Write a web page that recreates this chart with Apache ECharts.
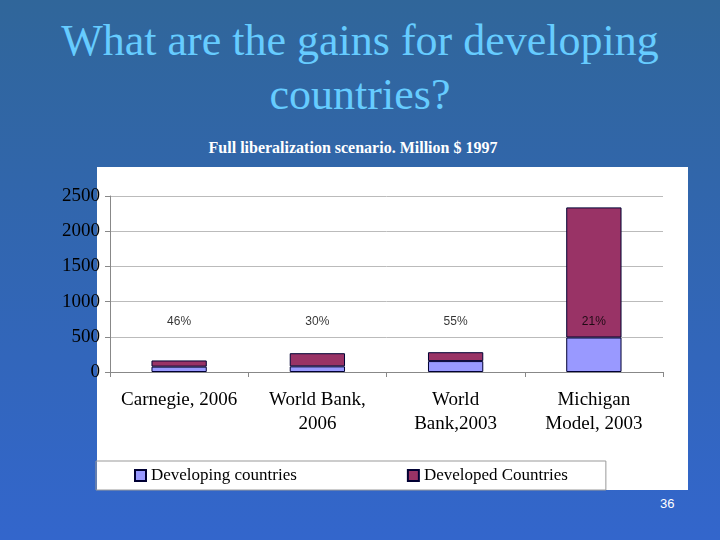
<!DOCTYPE html>
<html><head><meta charset="utf-8">
<script src="https://cdn.jsdelivr.net/npm/echarts@6/dist/echarts.min.js"></script>
<style>
html,body{margin:0;padding:0;}
body{width:720px;height:540px;background:linear-gradient(#30669a,#3366cc);position:relative;overflow:hidden;font-family:"Liberation Serif",serif;}
#t{position:absolute;left:0;width:720px;top:14px;text-align:center;color:#66ccff;font-size:44px;line-height:54px;}
#s{position:absolute;left:0;width:706px;top:139px;text-align:center;color:#fff;font-size:16px;font-weight:bold;}
#box{position:absolute;left:97px;top:167px;width:591px;height:323px;background:#fff;}
#c{position:absolute;left:0;top:0;width:720px;height:540px;}
#pg{position:absolute;left:660px;top:496px;color:#fff;font-family:"Liberation Sans",sans-serif;font-size:13px;}
</style></head><body>
<div id="t">What are the gains for developing<br>countries?</div>
<div id="s">Full liberalization scenario. Million $ 1997</div>
<div id="box"></div>
<div id="pg">36</div>
<div id="c"></div>
<script>
const categories = ["Carnegie, 2006", "World Bank,\n2006", "World\nBank,2003", "Michigan\nModel, 2003"];
const developing = [76, 80, 155, 490];
const developed = [88, 187, 126, 1848];
const shareLabels = ["46%", "30%", "55%", "21%"];
const labelLevel = [720, 720, 720, 720];
const yTicks = [0, 500, 1000, 1500, 2000, 2500];

const chart = echarts.init(document.getElementById('c'));
chart.setOption({
  animation: false,
  textStyle: {fontFamily: "Liberation Serif"},
  grid: {left: 110, right: 57, top: 196, bottom: 168},
  legend: {
    bottom: 50, left: 96, width: 509, itemGap: 110, icon: 'rect',
    padding: [6, 38], itemWidth: 11, itemHeight: 11,
    borderColor: '#999', borderWidth: 1,
    data: ["Developing countries", "Developed Countries"],
    textStyle: {fontSize: 17, color: '#000', fontFamily: "Liberation Serif"}
  },
  xAxis: {
    type: 'category', data: categories,
    axisLine: {lineStyle: {color: '#888'}},
    axisTick: {show: true, lineStyle: {color: '#888'}},
    axisLabel: {fontSize: 19, color: '#000', lineHeight: 24, margin: 16, interval: 0}
  },
  yAxis: {
    type: 'value', min: 0, max: 2500, interval: 500,
    axisLine: {show: true, lineStyle: {color: '#888'}},
    axisTick: {show: true, lineStyle: {color: '#888'}},
    axisLabel: {fontSize: 19, color: '#000', margin: 10, formatter: v => yTicks.includes(v) ? String(v) : ''},
    splitLine: {lineStyle: {color: '#bbb'}}
  },
  series: [
    {name: "Developing countries", type: 'bar', stack: 's', data: developing, barWidth: '40%',
     itemStyle: {color: '#9999ff', borderColor: '#000033', borderWidth: 1}},
    {name: "Developed Countries", type: 'bar', stack: 's', data: developed,
     itemStyle: {color: '#993366', borderColor: '#000033', borderWidth: 1}},
    {name: "share", type: 'scatter', symbolSize: 0, data: labelLevel,
     label: {show: true, position: 'inside', formatter: p => shareLabels[p.dataIndex],
       fontFamily: "Liberation Sans", fontSize: 12, color: '#000'}}
  ]
});
</script>
</body></html>
